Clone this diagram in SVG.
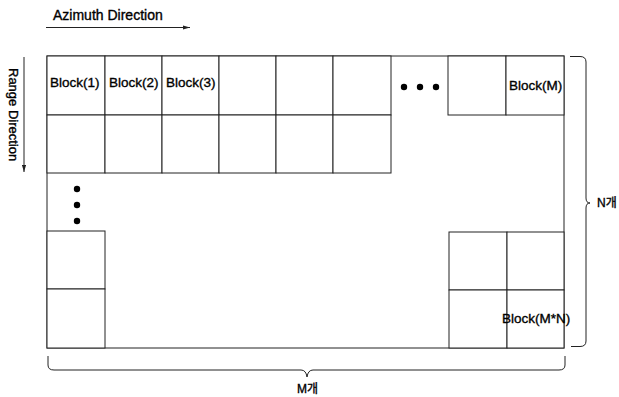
<svg xmlns="http://www.w3.org/2000/svg" width="619" height="397" viewBox="0 0 619 397">
<style>
.c{fill:#fff;stroke:#222;stroke-width:1}
.t{font-family:"Liberation Sans","Noto Sans CJK KR",Arial,sans-serif;font-size:13.5px;fill:#000;stroke:#000;stroke-width:0.35}
.ln{fill:none;stroke:#222;stroke-width:1}
.d{fill:#000}
</style>
<defs>
<marker id="ah" viewBox="0 0 10 6" refX="10" refY="3" markerWidth="7" markerHeight="4.5" markerUnits="userSpaceOnUse" orient="auto"><path d="M0,0 L10,3 L0,6 Z" fill="#222"/></marker>
</defs>
<rect x="47" y="56" width="517" height="292" class="c" id="frame"/>
<g id="block1"><rect class="c" x="47" y="56" width="58" height="59"/><text class="t" x="50" y="87">Block(1)</text></g>
<g id="block2"><rect class="c" x="105" y="56" width="57" height="59"/><text class="t" x="109" y="87">Block(2)</text></g>
<g id="block3"><rect class="c" x="162" y="56" width="57" height="59"/><text class="t" x="166" y="87">Block(3)</text></g>
<g id="block4"><rect class="c" x="219" y="56" width="57" height="59"/></g>
<g id="block5"><rect class="c" x="276" y="56" width="57" height="59"/></g>
<g id="block6"><rect class="c" x="333" y="56" width="58" height="59"/></g>
<g id="blockM1"><rect class="c" x="448" y="56" width="58" height="59"/></g>
<g id="blockM"><rect class="c" x="506" y="56" width="58" height="59"/><text class="t" x="509" y="90">Block(M)</text></g>
<g id="row2c1"><rect class="c" x="47" y="115" width="58" height="58"/></g>
<g id="row2c2"><rect class="c" x="105" y="115" width="57" height="58"/></g>
<g id="row2c3"><rect class="c" x="162" y="115" width="57" height="58"/></g>
<g id="row2c4"><rect class="c" x="219" y="115" width="57" height="58"/></g>
<g id="row2c5"><rect class="c" x="276" y="115" width="57" height="58"/></g>
<g id="row2c6"><rect class="c" x="333" y="115" width="58" height="58"/></g>
<g id="leftA"><rect class="c" x="47" y="231" width="58" height="58"/></g>
<g id="leftB"><rect class="c" x="47" y="289" width="58" height="59"/></g>
<g id="brA"><rect class="c" x="449" y="232" width="58" height="58"/></g>
<g id="brB"><rect class="c" x="507" y="232" width="57" height="58"/></g>
<g id="brC"><rect class="c" x="449" y="290" width="58" height="58"/></g>
<g id="blockMN"><rect class="c" x="507" y="290" width="57" height="58"/><text class="t" x="502" y="323">Block(M*N)</text></g>
<g id="dotsH"><circle class="d" cx="404" cy="87" r="3.2"/><circle class="d" cx="420" cy="87" r="3.2"/><circle class="d" cx="436" cy="87" r="3.2"/></g>
<g id="dotsV"><circle class="d" cx="77" cy="189" r="3.2"/><circle class="d" cx="77" cy="205" r="3.2"/><circle class="d" cx="77" cy="221" r="3.2"/></g>
<g id="azimuth"><text class="t" x="53" y="20" style="font-size:14px">Azimuth Direction</text></g>
<g id="range"><text class="t" transform="translate(9,68) rotate(90)" style="font-size:13px">Range Direction</text></g>
<g id="nlabel"><text class="t" x="597" y="207" style="font-size:12px">N개</text></g>
<g id="mlabel"><text class="t" x="297" y="393" style="font-size:12px">M개</text></g>
<g id="connectors">
<line class="ln" x1="46" y1="27.5" x2="190" y2="27.5" marker-end="url(#ah)"/>
<line class="ln" x1="24" y1="57" x2="24" y2="172" marker-end="url(#ah)"/>
<path class="ln" d="M570 56.5 L580 56.5 Q586 56.5 586 62 L586 198 Q586 203 590 203 Q586 203 586 208 L586 341 Q586 346.5 580 346.5 L571 346.5"/>
<path class="ln" d="M48 356 L48 365 Q48 370 54 370 L301 370 Q306 370 307 377 Q308 370 313 370 L559 370 Q565 370 565 365 L565 356"/>
</g>
</svg>
